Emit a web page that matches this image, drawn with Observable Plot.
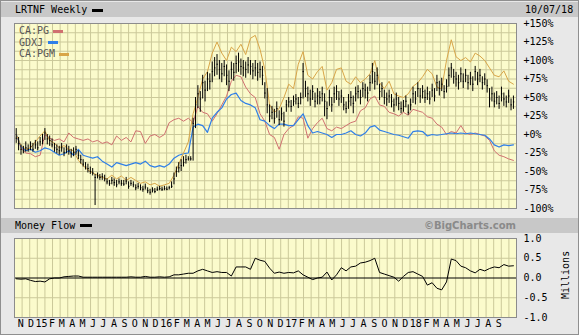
<!DOCTYPE html>
<html><head><meta charset="utf-8">
<script src="https://cdn.jsdelivr.net/npm/d3@7"></script>
<script src="https://cdn.jsdelivr.net/npm/@observablehq/plot@0.6"></script>
<style>
html,body{margin:0;padding:0;background:#e8e8e8;}
#root{position:relative;width:579px;height:335px;overflow:hidden;background:#e8e8e8;font-family:"DejaVu Sans Mono",monospace;font-size:10px;color:#000;}
.abs{position:absolute;}
.bar{position:absolute;left:1px;width:577px;background:#c8c8c8;}
.txt{position:absolute;line-height:12px;white-space:nowrap;}
.sw{position:absolute;height:3px;}
#border{position:absolute;left:0;top:0;width:577px;height:333px;border:1px solid #8f8f8f;}
</style></head>
<body><div id="root">
<div class="bar" style="top:2px;height:15px;"></div>
<div class="txt" style="left:15px;top:4px;">LRTNF Weekly</div>
<div class="sw" style="left:92px;top:9px;width:11px;background:#000;"></div>
<div class="txt" style="left:525px;top:4px;">10/07/18</div>
<div id="main" class="abs" style="left:0;top:18px;"></div>
<div class="txt" style="left:19px;top:25px;color:#555;">CA:PG</div>
<div class="sw" style="left:53px;top:30px;width:10px;background:#d07070;"></div>
<div class="txt" style="left:19px;top:37px;color:#555;">GDXJ</div>
<div class="sw" style="left:48px;top:41px;width:10px;background:#2f7fe8;"></div>
<div class="txt" style="left:19px;top:48px;color:#555;">CA:PGM</div>
<div class="sw" style="left:59px;top:53px;width:10px;background:#d8a548;"></div>
<div class="bar" style="top:218px;height:15px;"></div>
<div class="txt" style="left:15px;top:220px;">Money Flow</div>
<div class="sw" style="left:80px;top:224px;width:12px;background:#000;"></div>
<div class="txt" style="right:63px;top:220px;font-family:'DejaVu Sans',sans-serif;font-weight:bold;color:#8a8a8a;">©BigCharts.com</div>
<div id="lower" class="abs" style="left:0;top:233px;"></div>
<div class="txt" style="left:542px;top:269px;width:48px;text-align:center;transform:rotate(-90deg);">Millions</div>
<div id="border"></div>
</div>
<script>
// ---------- data ----------
const firstWeek = "2014-10-10";
// LRTNF weekly bars, % change
const closeV = [-5,-12,-20,-22,-18,-20,-16,
-20,-14,-18,-10,-8,2,-6,
-8,-14,-18,-20,-22,-18,-24,
-20,-22,-26,-24,-20,-28,-34,
-40,-44,-46,-50,-52,
-58,-56,-58,-57,-60,
-64,-66,-62,-65,-68,-64,-66,
-67,-63,-70,-66,-68,-72,-70,
-72,-74,-71,-76,-78,-75,-77,
-74,-73,-74,-73,-74,-72,-70,
-60,-50,-45,-42,-38,-34,-33,-33,
15,40,55,48,70,60,75,
72,85,90,95,88,82,92,
80,72,88,84,96,98,92,
90,88,94,92,86,90,84,88,80,
56,40,25,30,22,35,20,28,18,
40,44,38,45,48,42,50,85,
62,55,48,58,45,52,50,
55,45,35,50,40,55,58,
48,52,40,35,45,50,42,
55,58,50,62,60,56,70,
85,72,80,58,62,50,48,
52,45,40,48,42,35,38,45,30,40,
55,48,62,52,58,50,55,
48,60,52,70,62,68,58,
65,80,90,78,75,70,82,
72,80,70,76,68,85,75,
80,70,75,66,48,55,45,
50,42,55,48,44,52,40,44];
const highV = [8,-4,-14,-16,-10,-14,-10,
-12,-8,-10,-4,0,8,0,
-2,-6,-12,-14,-16,-12,-18,
-14,-16,-20,-18,-16,-22,-28,
-34,-38,-40,-44,-46,
-54,-52,-54,-53,-55,
-60,-62,-58,-60,-62,-60,-62,
-62,-58,-64,-62,-64,-68,-66,
-68,-70,-67,-72,-74,-72,-73,
-71,-70,-71,-70,-71,-70,-64,
-52,-44,-38,-34,-30,-28,-30,-30,
22,50,66,58,80,72,84,
82,98,104,108,100,96,100,
94,86,98,96,106,110,102,
100,98,104,100,96,100,96,98,92,
70,62,40,38,34,44,32,36,30,
46,50,46,52,54,50,56,96,
72,64,60,66,56,62,58,
64,55,44,60,50,64,66,
58,60,50,44,54,58,52,
64,66,60,70,68,64,80,
96,84,90,68,70,60,56,
60,54,48,56,50,44,46,52,40,48,
64,58,70,62,66,60,64,
58,68,62,80,72,76,66,
74,90,96,88,84,80,90,
82,88,80,84,78,92,84,
88,78,82,74,62,64,56,
58,52,64,56,52,60,48,52];
const lowV = [-12,-22,-28,-26,-24,-24,-22,
-24,-20,-22,-16,-14,-8,-14,
-16,-18,-24,-26,-28,-24,-30,
-26,-28,-32,-30,-28,-34,-40,
-44,-48,-52,-54,-56,
-96,-60,-62,-62,-64,
-68,-70,-68,-70,-72,-68,-70,
-70,-68,-74,-70,-72,-76,-74,
-76,-78,-75,-80,-82,-79,-80,
-77,-76,-77,-76,-76,-75,-73,
-68,-58,-52,-50,-44,-40,-36,-36,
-36,8,35,30,48,44,58,
60,70,78,80,74,70,78,
66,58,74,72,82,84,80,
78,76,82,80,74,78,72,76,66,
48,28,16,20,14,22,12,18,10,
30,36,30,38,40,35,40,48,
50,44,38,46,36,40,40,
44,24,20,38,30,42,46,
38,42,32,28,34,38,28,
44,48,40,50,48,44,58,
68,60,66,46,50,40,38,
42,36,30,38,32,28,30,36,26,32,
42,40,50,42,48,42,46,
40,50,44,58,52,58,48,
56,64,76,68,64,60,70,
62,70,60,66,58,72,66,
70,60,66,56,36,44,36,
40,34,44,38,36,42,32,34];
// comparison lines, every 2 weeks, % change
const caPGM = [0,-15,-20,-18,-10,-2,5,-8,-12,-18,
-15,-20,-22,-35,-42,-48,-52,-55,-58,-60,
-55,-60,-56,-62,-58,-62,-66,-64,-68,-66,
-70,-68,-66,-55,-40,-25,-10,28,50,75,
85,110,125,110,100,118,112,122,108,130,
134,115,88,40,30,35,50,68,62,95,
112,80,75,85,92,60,70,88,90,72,
68,78,70,75,82,100,70,62,72,55,
52,50,55,65,70,78,88,82,64,62,
100,128,105,100,104,98,110,106,100,90,
80,78,86,72,68];
const caPG = [0,-18,-25,-26,-30,-28,0,-5,-8,-6,
-10,2,-4,-6,-8,-6,-10,-8,-12,-10,
-14,-2,-8,-4,-10,5,4,-12,-2,0,
-4,0,16,20,22,18,22,16,38,30,
28,18,28,40,52,72,80,78,64,55,
50,28,18,0,-4,-20,0,8,12,24,
22,-5,8,16,22,8,5,10,8,12,
16,18,32,36,48,52,40,38,30,28,
25,30,26,34,32,30,24,22,14,10,
0,4,2,12,2,0,2,0,-2,-8,
-22,-28,-30,-33,-35];
const gdxj = [0,-16,-22,-20,-24,-22,-18,-20,-24,-28,
-26,-22,-28,-20,-28,-30,-32,-30,-36,-40,
-44,-38,-40,-42,-40,-38,-40,-36,-42,-44,
-42,-44,-40,-32,-28,-26,-25,10,14,12,
3,22,30,36,48,54,56,46,42,40,
36,20,18,12,8,14,14,12,12,20,
28,12,2,4,2,0,-4,0,0,2,
5,0,-2,2,10,12,6,4,2,0,
-1,-3,-5,4,5,4,-2,0,-1,0,
1,2,1,2,1,2,1,0,-1,-6,
-14,-17,-14,-15,-14];
// money flow, millions, every 2 weeks
const moneyFlow = [-0.02,-0.03,-0.02,-0.06,-0.09,-0.08,-0.10,-0.02,0.0,0.0,
0.03,0.04,0.05,0.05,0.02,0.02,0.02,0.02,0.02,0.02,
0.02,0.02,0.02,0.02,0.03,0.02,0.02,0.04,0.02,0.02,
0.03,0.02,0.03,0.08,0.08,0.10,0.12,0.12,0.18,0.22,
0.18,0.14,0.16,0.14,0.14,0.05,0.28,0.28,0.28,0.22,
0.50,0.45,0.42,0.25,0.12,0.15,0.12,0.14,0.13,0.18,
0.08,0.02,-0.04,0.0,0.02,0.15,-0.05,0.08,0.26,0.18,
0.28,0.30,0.38,0.40,0.44,0.50,0.14,0.10,0.06,0.02,
-0.08,0.04,0.14,0.16,0.10,0.04,-0.18,-0.12,-0.26,-0.30,
-0.10,0.48,0.44,0.30,0.26,0.18,0.13,0.22,0.18,0.24,
0.28,0.26,0.34,0.30,0.31];
const pctTicks = [-100,-75,-50,-25,0,25,50,75,100,125,150];
const mfTicks = [-1,-0.5,0,0.5,1];
const monthLetters = ["J","F","M","A","M","J","J","A","S","O","N","D"];
const xStartStr = "2014-10-05", xEndStr = "2018-10-14";
const firstLabelMonth = "2014-11-01", lastLabelMonth = "2018-09-01";

// ---------- build ----------
const t0 = new Date(firstWeek + "T00:00:00Z");
const weekDate = i => d3.utcDay.offset(t0, 7 * i);
const bars = closeV.map((c, i) => ({date: weekDate(i), date2: d3.utcDay.offset(weekDate(i), 4), c, hi: highV[i], lo: lowV[i]}));
const lineRows = (arr, name) => arr.map((v, i) => ({date: weekDate(2 * i), v, name}));
const xStart = new Date(xStartStr + "T00:00:00Z"), xEnd = new Date(xEndStr + "T00:00:00Z");
const vGrid = d3.range(1, 66).map(i => new Date(+xStart + (xEnd - xStart) * i / 66));
const hGrid = d3.range(-100, 150.01, 12.5);
const months = d3.utcMonth.range(new Date(firstLabelMonth + "T00:00:00Z"), d3.utcDay.offset(new Date(lastLabelMonth + "T00:00:00Z"), 1));
const monthLabel = d => d.getUTCMonth() === 0 ? String(d.getUTCFullYear()).slice(2) : monthLetters[d.getUTCMonth()];
const gridColor = "#cbc99a";
const bg = "#fbfbcc";
const style = {background: "transparent", fontFamily: "DejaVu Sans Mono", fontSize: "10px", color: "#000", overflow: "visible"};

const main = Plot.plot({
  width: 579, height: 195, marginLeft: 14, marginRight: 63, marginTop: 5, marginBottom: 5,
  style,
  x: {type: "utc", domain: [xStart, xEnd], axis: null},
  y: {domain: [-100, 150], axis: "right", ticks: pctTicks, tickSize: 0, tickPadding: 7, label: null,
      tickFormat: d => (d >= 0 ? "+" : "") + d + "%"},
  marks: [
    Plot.frame({fill: bg}),
    Plot.ruleY(hGrid, {stroke: gridColor}),
    Plot.ruleX(vGrid, {stroke: gridColor}),
    Plot.line(lineRows(caPG, "CA:PG"), {x: "date", y: "v", stroke: "#d07070", strokeWidth: 1}),
    Plot.line(lineRows(gdxj, "GDXJ"), {x: "date", y: "v", stroke: "#2f7fe8", strokeWidth: 1.2}),
    Plot.line(lineRows(caPGM, "CA:PGM"), {x: "date", y: "v", stroke: "#d8a548", strokeWidth: 1}),
    Plot.ruleX(bars, {x: "date", y1: "lo", y2: "hi", stroke: "#000", strokeWidth: 1}),
    Plot.ruleY(bars, {x1: "date", x2: "date2", y: "c", stroke: "#000", strokeWidth: 1}),
    Plot.frame({stroke: "#8c8c8c"})
  ]
});
document.getElementById("main").appendChild(main);

const lower = Plot.plot({
  width: 579, height: 102, marginLeft: 14, marginRight: 63, marginTop: 5, marginBottom: 18,
  style,
  x: {type: "utc", domain: [xStart, xEnd], axis: null},
  y: {domain: [-1, 1], axis: "right", ticks: mfTicks, tickSize: 0, tickPadding: 7, label: null,
      tickFormat: d => d.toFixed(1)},
  marks: [
    Plot.frame({fill: bg}),
    Plot.ruleY([-0.5, 0.5], {stroke: gridColor}),
    Plot.ruleX(vGrid, {stroke: gridColor}),
    Plot.ruleY([0], {stroke: "#000"}),
    Plot.line(lineRows(moneyFlow, "MF"), {x: "date", y: "v", stroke: "#000", strokeWidth: 1}),
    Plot.frame({stroke: "#8c8c8c"}),
    Plot.text(months, {x: d => d, text: monthLabel, frameAnchor: "bottom", dy: 9, dx: -3, fill: "#000"})
  ]
});
document.getElementById("lower").appendChild(lower);
</script>
</body></html>
